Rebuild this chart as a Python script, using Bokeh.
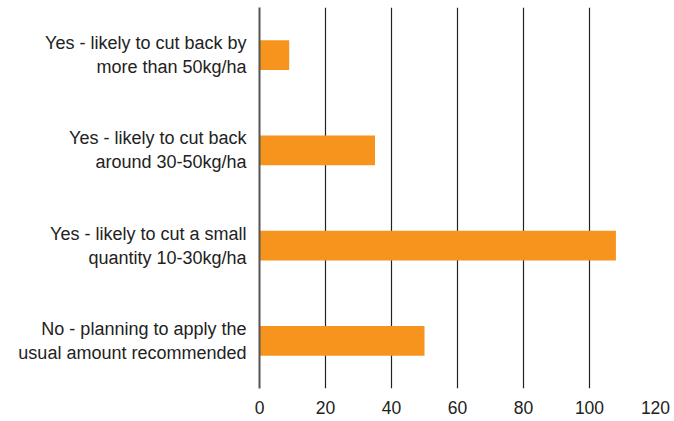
from bokeh.plotting import figure
from bokeh.embed import file_html
from bokeh.resources import INLINE
from bokeh.models import ColumnDataSource, FixedTicker

categories = [
    "No - planning to apply the\nusual amount recommended",
    "Yes - likely to cut a small\nquantity 10-30kg/ha",
    "Yes - likely to cut back\naround 30-50kg/ha",
    "Yes - likely to cut back by\nmore than 50kg/ha",
]
values = [50, 108, 35, 9]
x_ticks = [0, 20, 40, 60, 80, 100, 120]

src = ColumnDataSource(dict(cat=categories, val=values))

p = figure(width=674, height=421, y_range=categories, x_range=(0, 120),
           output_backend="svg", toolbar_location=None,
           min_border_left=259, min_border_right=19,
           min_border_top=7, min_border_bottom=33)

p.hbar(y="cat", right="val", left=0, height=0.31, source=src,
       color="#F7941D", line_color=None)

p.outline_line_color = None
p.background_fill_color = "white"
p.border_fill_color = "white"

p.ygrid.grid_line_color = None
p.xgrid.ticker = FixedTicker(ticks=x_ticks)
p.xgrid.grid_line_color = "#222222"
p.xgrid.grid_line_width = 1.2

p.xaxis.ticker = FixedTicker(ticks=x_ticks)
p.xaxis.axis_line_color = None
p.xaxis.major_tick_line_color = None
p.xaxis.minor_tick_line_color = None
p.xaxis.major_tick_out = 0
p.xaxis.major_label_standoff = 12
p.xaxis.major_label_text_font = "Liberation Sans"
p.xaxis.major_label_text_font_size = "17.5px"
p.xaxis.major_label_text_color = "#222222"

p.yaxis.axis_line_color = "#555555"
p.yaxis.axis_line_width = 2
p.yaxis.major_tick_line_color = None
p.yaxis.minor_tick_line_color = None
p.yaxis.major_tick_out = 0
p.yaxis.major_label_standoff = 13
p.yaxis.major_label_text_font = "Liberation Sans"
p.yaxis.major_label_text_font_size = "18px"
p.yaxis.major_label_text_color = "#222222"
p.yaxis.major_label_text_align = "right"

open("out.html", "w").write(file_html(p, INLINE))
